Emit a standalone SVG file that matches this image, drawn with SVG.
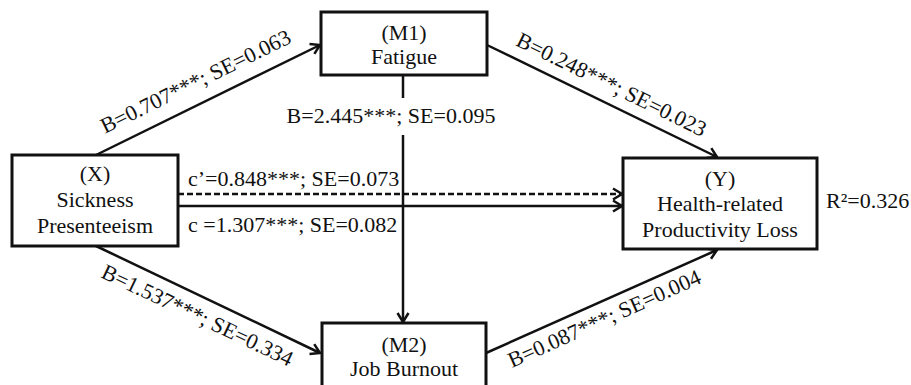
<svg xmlns="http://www.w3.org/2000/svg" width="911" height="385" viewBox="0 0 911 385">
<style>
text{font-family:"Liberation Serif","Times New Roman",serif;font-size:22px;fill:#111}
.c{text-anchor:middle}
.box{fill:#fff;stroke:#111;stroke-width:3}
.ln{stroke:#111;stroke-width:2.5;fill:none}
.dash{stroke-dasharray:6,3}
</style>
<defs>
<marker id="ah" markerUnits="userSpaceOnUse" markerWidth="14" markerHeight="14" viewBox="0 0 14 14" refX="12" refY="7" orient="auto">
<path d="M3,1.5 L12,7 L3,12.5" fill="none" stroke="#111" stroke-width="2.5"/>
</marker>
</defs>
<rect width="911" height="385" fill="#fff"/>
<g id="connectors">
<line class="ln" x1="96" y1="155" x2="320" y2="45" marker-end="url(#ah)"/>
<line class="ln" x1="487" y1="45" x2="717" y2="157" marker-end="url(#ah)"/>
<line class="ln" x1="96" y1="246" x2="320" y2="353" marker-end="url(#ah)"/>
<line class="ln" x1="486" y1="353" x2="717" y2="250" marker-end="url(#ah)"/>
<line class="ln" x1="403" y1="75" x2="403" y2="98"/>
<line class="ln" x1="403" y1="135" x2="403" y2="322" marker-end="url(#ah)"/>
<line class="ln dash" x1="178" y1="194" x2="622" y2="194" marker-end="url(#ah)"/>
<line class="ln" x1="178" y1="206" x2="622" y2="206" marker-end="url(#ah)"/>
<text class="c" transform="translate(205,100.6) rotate(-26.05)" y="-14">B=0.707***; SE=0.063</text>
<text class="c" transform="translate(603,101.8) rotate(26.2)" y="-12">B=0.248***; SE=0.023</text>
<text class="c" transform="translate(206,297.5) rotate(25.4)" y="27">B=1.537***; SE=0.334</text>
<text class="c" transform="translate(597,302.5) rotate(-24.2)" y="25">B=0.087***; SE=0.004</text>
<text class="c" x="391" y="123">B=2.445***; SE=0.095</text>
<text x="188" y="186">c’=0.848***; SE=0.073</text>
<text x="188" y="232">c =1.307***; SE=0.082</text>
</g>
<g id="X">
<rect class="box" x="12" y="155" width="166" height="91"/>
<text class="c" x="95" y="181">(X)</text>
<text class="c" x="95" y="207">Sickness</text>
<text class="c" x="95" y="233">Presenteeism</text>
</g>
<g id="M1">
<rect class="box" x="321" y="12" width="166" height="63"/>
<text class="c" x="404" y="40">(M1)</text>
<text class="c" x="404" y="64">Fatigue</text>
</g>
<g id="M2">
<rect class="box" x="322" y="323" width="164" height="75"/>
<text class="c" x="404" y="352">(M2)</text>
<text class="c" x="404" y="376">Job Burnout</text>
</g>
<g id="Y">
<rect class="box" x="623" y="158" width="194" height="91"/>
<text class="c" x="720" y="186">(Y)</text>
<text class="c" x="720" y="211">Health-related</text>
<text class="c" x="720" y="237">Productivity Loss</text>
<text x="826" y="208">R²=0.326</text>
</g>
</svg>
